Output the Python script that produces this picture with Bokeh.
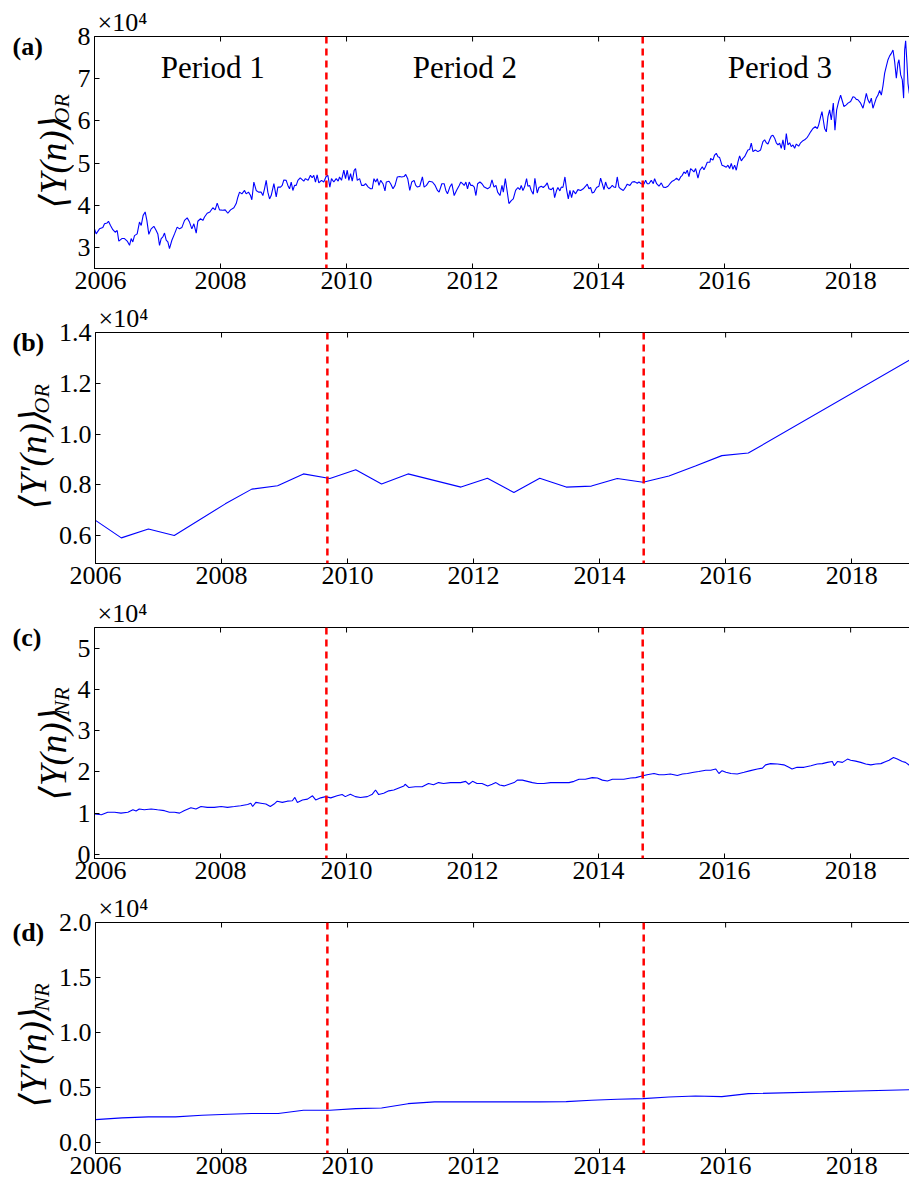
import math
from bokeh.plotting import figure
from bokeh.models import Label, Span, FixedTicker, PrintfTickFormatter, Range1d
from bokeh.layouts import column, row
from bokeh.embed import file_html
from bokeh.resources import INLINE

# ---------------- data (values in units of 10^4) ----------------
x_ticks = [2006, 2008, 2010, 2012, 2014, 2016, 2018]
period_breaks = [2009.68, 2014.70]
period_names = ["Period 1", "Period 2", "Period 3"]
period_text_x = [2007.05, 2011.05, 2016.05]
period_text_y = 7.27

# (a) <Y(n)>_OR, weekly
a_years = [2006.000, 2006.026, 2006.079, 2006.132, 2006.159, 2006.201, 2006.222, 2006.254, 2006.291, 2006.328,
           2006.360, 2006.386, 2006.434, 2006.476, 2006.519, 2006.556, 2006.582, 2006.608, 2006.635, 2006.677,
           2006.714, 2006.741, 2006.772, 2006.804, 2006.831, 2006.862, 2006.899, 2006.942, 2006.979, 2007.005,
           2007.032, 2007.058, 2007.085, 2007.111, 2007.138, 2007.164, 2007.190, 2007.228, 2007.270, 2007.312,
           2007.349, 2007.386, 2007.429, 2007.471, 2007.508, 2007.545, 2007.577, 2007.614, 2007.640, 2007.683,
           2007.720, 2007.746, 2007.788, 2007.831, 2007.878, 2007.915, 2007.947, 2007.984, 2008.037, 2008.074,
           2008.116, 2008.159, 2008.212, 2008.249, 2008.275, 2008.302, 2008.339, 2008.381, 2008.407, 2008.444,
           2008.476, 2008.497, 2008.529, 2008.566, 2008.603, 2008.646, 2008.672, 2008.698, 2008.725, 2008.751,
           2008.778, 2008.804, 2008.847, 2008.884, 2008.910, 2008.952, 2008.979, 2009.005, 2009.042, 2009.069,
           2009.095, 2009.122, 2009.148, 2009.175, 2009.201, 2009.228, 2009.265,
           2009.321, 2009.347, 2009.390, 2009.427, 2009.454, 2009.480, 2009.507, 2009.533, 2009.560, 2009.602,
           2009.639, 2009.676, 2009.703, 2009.735, 2009.761, 2009.798, 2009.836, 2009.867, 2009.889, 2009.920,
           2009.957, 2009.984, 2010.011, 2010.037, 2010.064, 2010.090, 2010.122, 2010.143, 2010.170, 2010.207,
           2010.239, 2010.276, 2010.302, 2010.345, 2010.382, 2010.408, 2010.435, 2010.462, 2010.488, 2010.515,
           2010.541, 2010.578, 2010.610, 2010.631, 2010.674, 2010.700, 2010.737, 2010.769, 2010.806, 2010.844,
           2010.875, 2010.912, 2010.939, 2010.971, 2011.003, 2011.034, 2011.072, 2011.098, 2011.125, 2011.162,
           2011.204, 2011.231, 2011.268, 2011.310, 2011.363, 2011.406, 2011.443, 2011.469, 2011.512, 2011.549,
           2011.576, 2011.602, 2011.639, 2011.671, 2011.708, 2011.745, 2011.788, 2011.814, 2011.841, 2011.867,
           2011.894, 2011.920, 2011.947, 2011.973, 2012.000, 2012.027, 2012.053, 2012.080, 2012.117, 2012.149,
           2012.186, 2012.239, 2012.276, 2012.308, 2012.340, 2012.371, 2012.398, 2012.435, 2012.467, 2012.488,
           2012.520,
           2012.577, 2012.614, 2012.646, 2012.683, 2012.720, 2012.751, 2012.772, 2012.799, 2012.825, 2012.857,
           2012.878, 2012.905, 2012.931, 2012.963, 2012.989, 2013.026, 2013.053, 2013.090, 2013.122, 2013.159,
           2013.185, 2013.212, 2013.249, 2013.280, 2013.302, 2013.333, 2013.354, 2013.386, 2013.407, 2013.434,
           2013.466, 2013.492, 2013.519, 2013.545, 2013.571, 2013.598, 2013.635, 2013.672, 2013.714, 2013.757,
           2013.794, 2013.820, 2013.847, 2013.873, 2013.899, 2013.926, 2013.968, 2014.005, 2014.032, 2014.058,
           2014.085, 2014.111, 2014.138, 2014.164, 2014.190, 2014.217, 2014.243, 2014.270, 2014.296, 2014.323,
           2014.349, 2014.392, 2014.429, 2014.455, 2014.497, 2014.534, 2014.571, 2014.614, 2014.640, 2014.677,
           2014.720, 2014.746, 2014.772, 2014.799, 2014.836, 2014.868, 2014.889, 2014.921, 2014.958, 2014.995,
           2015.026, 2015.063, 2015.101, 2015.132, 2015.169, 2015.206, 2015.238, 2015.275, 2015.302, 2015.328,
           2015.354, 2015.381, 2015.407, 2015.434, 2015.460, 2015.487, 2015.513, 2015.540, 2015.577, 2015.608,
           2015.646, 2015.672, 2015.698, 2015.725, 2015.767,
           2015.778, 2015.815, 2015.841, 2015.868, 2015.894, 2015.921, 2015.958, 2015.989, 2016.026, 2016.053,
           2016.079, 2016.106, 2016.132, 2016.159, 2016.185, 2016.212, 2016.238, 2016.265, 2016.291, 2016.317,
           2016.344, 2016.370, 2016.397, 2016.423, 2016.450, 2016.487, 2016.529, 2016.571, 2016.608, 2016.635,
           2016.661, 2016.688, 2016.714, 2016.741, 2016.767, 2016.794, 2016.820, 2016.847, 2016.873, 2016.899,
           2016.926, 2016.952, 2016.979, 2017.005, 2017.032, 2017.058, 2017.085, 2017.111, 2017.138, 2017.175,
           2017.206, 2017.243, 2017.270, 2017.312, 2017.333, 2017.365, 2017.402, 2017.439, 2017.471, 2017.492,
           2017.524, 2017.545, 2017.566, 2017.587, 2017.614, 2017.640, 2017.667, 2017.693, 2017.725, 2017.751,
           2017.778, 2017.810, 2017.841, 2017.862, 2017.894, 2017.931, 2017.958, 2018.000, 2018.037, 2018.063,
           2018.090, 2018.116, 2018.159, 2018.196, 2018.222, 2018.249, 2018.275, 2018.302, 2018.328, 2018.354,
           2018.381, 2018.407, 2018.434, 2018.460, 2018.487, 2018.513, 2018.540, 2018.566, 2018.593, 2018.619,
           2018.646, 2018.672, 2018.698, 2018.725, 2018.751, 2018.767, 2018.794, 2018.820, 2018.841, 2018.857,
           2018.873, 2018.894, 2018.910, 2018.931, 2018.947]
a_vals = [3.44, 3.32, 3.44, 3.47, 3.56, 3.58, 3.62, 3.52, 3.42, 3.36,
          3.40, 3.15, 3.21, 3.21, 3.15, 3.05, 3.21, 3.13, 3.28, 3.32,
          3.60, 3.52, 3.76, 3.84, 3.64, 3.31, 3.44, 3.50, 3.40, 3.32,
          3.05, 3.21, 3.25, 3.34, 3.17, 3.13, 2.97, 3.17, 3.32, 3.48,
          3.44, 3.47, 3.64, 3.70, 3.60, 3.44, 3.56, 3.34, 3.62, 3.68,
          3.64, 3.72, 3.81, 3.84, 3.94, 3.89, 4.05, 3.89, 3.88, 3.89,
          3.81, 3.89, 3.94, 4.04, 4.19, 4.31, 4.27, 4.35, 4.27, 4.31,
          4.23, 4.13, 4.55, 4.35, 4.31, 4.31, 4.23, 4.39, 4.59, 4.31,
          4.15, 4.23, 4.51, 4.20, 4.43, 4.43, 4.47, 4.60, 4.59, 4.47,
          4.39, 4.55, 4.35, 4.47, 4.47, 4.59, 4.65,
          4.57, 4.63, 4.59, 4.71, 4.65, 4.71, 4.55, 4.72, 4.53, 4.59,
          4.55, 4.68, 4.71, 4.43, 4.63, 4.55, 4.63, 4.57, 4.67, 4.59,
          4.83, 4.63, 4.83, 4.59, 4.75, 4.57, 4.83, 4.87, 4.59, 4.63,
          4.47, 4.47, 4.51, 4.43, 4.39, 4.39, 4.63, 4.55, 4.63, 4.47,
          4.59, 4.51, 4.34, 4.55, 4.57, 4.51, 4.39, 4.47, 4.67, 4.68,
          4.67, 4.68, 4.73, 4.63, 4.35, 4.55, 4.59, 4.47, 4.43, 4.45,
          4.67, 4.43, 4.47, 4.57, 4.55, 4.47, 4.35, 4.31, 4.51, 4.51,
          4.35, 4.27, 4.43, 4.51, 4.23, 4.35, 4.47, 4.55, 4.51, 4.47,
          4.55, 4.39, 4.55, 4.47, 4.47, 4.43, 4.23, 4.51, 4.55, 4.51,
          4.43, 4.39, 4.43, 4.60, 4.43, 4.47, 4.31, 4.23, 4.47, 4.31,
          4.63,
          4.04, 4.11, 4.15, 4.35, 4.42, 4.37, 4.47, 4.35, 4.43, 4.63,
          4.45, 4.47, 4.35, 4.26, 4.64, 4.29, 4.42, 4.45, 4.42, 4.47,
          4.53, 4.39, 4.37, 4.42, 4.18, 4.35, 4.42, 4.34, 4.43, 4.42,
          4.67, 4.37, 4.15, 4.35, 4.18, 4.35, 4.27, 4.37, 4.35, 4.39,
          4.45, 4.50, 4.39, 4.42, 4.29, 4.31, 4.42, 4.45, 4.64, 4.51,
          4.37, 4.55, 4.43, 4.39, 4.42, 4.47, 4.43, 4.42, 4.67, 4.43,
          4.39, 4.35, 4.43, 4.50, 4.47, 4.55, 4.56, 4.52, 4.55, 4.51,
          4.50, 4.59, 4.51, 4.51, 4.59, 4.51, 4.63, 4.51, 4.45, 4.53,
          4.43, 4.42, 4.45, 4.51, 4.57, 4.60, 4.64, 4.59, 4.67, 4.71,
          4.79, 4.75, 4.83, 4.68, 4.87, 4.83, 4.79, 4.87, 4.64, 4.83,
          4.91, 4.84, 4.92, 5.02, 5.02,
          5.11, 5.07, 5.19, 5.23, 5.15, 5.13, 4.95, 4.93, 4.90, 4.95,
          4.87, 4.99, 4.85, 4.95, 4.83, 5.03, 5.17, 5.05, 5.11, 5.15,
          5.23, 5.31, 5.32, 5.47, 5.27, 5.31, 5.27, 5.31, 5.51, 5.55,
          5.48, 5.45, 5.55, 5.64, 5.66, 5.59, 5.48, 5.43, 5.47, 5.35,
          5.55, 5.31, 5.70, 5.43, 5.48, 5.39, 5.43, 5.35, 5.45, 5.40,
          5.48, 5.53, 5.55, 5.61, 5.66, 5.74, 5.82, 5.86, 5.82, 5.90,
          6.10, 6.22, 6.02, 5.82, 5.74, 6.10, 6.26, 6.02, 6.42, 5.78,
          6.26, 6.46, 6.61, 6.50, 6.34, 6.38, 6.42, 6.46, 6.57, 6.56,
          6.51, 6.50, 6.42, 6.30, 6.46, 6.65, 6.50, 6.42, 6.54, 6.30,
          6.42, 6.54, 6.61, 6.72, 6.61, 6.83, 7.13, 7.29, 7.45, 7.54,
          7.60, 7.68, 7.41, 7.01, 7.37, 7.45, 7.09, 6.97, 6.54, 7.68,
          7.90, 7.37, 6.89, 6.65, 6.69]

# (b) <Y'(n)>_OR
b_years = [2006.00, 2006.41, 2006.84, 2007.25, 2008.06, 2008.48, 2008.89, 2009.30, 2009.72, 2010.13,
           2010.54, 2010.96, 2011.80, 2012.22, 2012.64, 2013.05, 2013.47, 2013.87, 2014.28, 2014.69,
           2015.10, 2015.52, 2015.94, 2016.36, 2018.94]
b_vals = [0.660, 0.591, 0.626, 0.600, 0.725, 0.783, 0.796, 0.843, 0.825, 0.859,
          0.803, 0.843, 0.791, 0.826, 0.770, 0.826, 0.791, 0.795, 0.825, 0.810,
          0.835, 0.874, 0.915, 0.925, 1.294]

# (c) <Y(n)>_NR, weekly
c_years = [2006.00, 2006.11, 2006.21, 2006.32, 2006.42, 2006.53, 2006.61, 2006.66, 2006.71, 2006.79,
           2006.90, 2007.00, 2007.11, 2007.19, 2007.27, 2007.35, 2007.42, 2007.53, 2007.61, 2007.69,
           2007.79, 2007.90, 2008.01, 2008.11, 2008.22, 2008.32, 2008.43, 2008.48, 2008.51, 2008.56,
           2008.64, 2008.72, 2008.79, 2008.85, 2008.90, 2008.98, 2009.06, 2009.14, 2009.18, 2009.22,
           2009.30, 2009.38, 2009.46, 2009.51, 2009.59, 2009.67, 2009.75, 2009.85, 2009.93, 2009.98,
           2010.06, 2010.14, 2010.22, 2010.33, 2010.41, 2010.46, 2010.51, 2010.59, 2010.67, 2010.75,
           2010.83, 2010.91, 2010.93, 2010.99, 2011.09, 2011.20, 2011.30, 2011.38, 2011.46, 2011.54,
           2011.65, 2011.81, 2011.89, 2011.94, 2012.00, 2012.07, 2012.15, 2012.24, 2012.31, 2012.37,
           2012.43, 2012.50, 2012.58, 2012.66, 2012.71, 2012.79, 2012.87, 2012.95, 2013.03, 2013.13,
           2013.24, 2013.34, 2013.45, 2013.53, 2013.61, 2013.69, 2013.79, 2013.90, 2013.98, 2014.06,
           2014.14, 2014.22, 2014.30, 2014.40, 2014.51, 2014.59, 2014.69, 2014.77, 2014.88, 2014.96,
           2015.04, 2015.14, 2015.25, 2015.33, 2015.41, 2015.51, 2015.59, 2015.70, 2015.78, 2015.86,
           2015.91, 2015.96, 2016.02, 2016.10, 2016.20, 2016.31, 2016.41, 2016.52, 2016.60, 2016.65,
           2016.73, 2016.84, 2016.94, 2017.02, 2017.07, 2017.15, 2017.26, 2017.37, 2017.47, 2017.55,
           2017.63, 2017.71, 2017.74, 2017.79, 2017.87, 2017.95, 2018.00, 2018.08, 2018.16, 2018.24,
           2018.32, 2018.40, 2018.48, 2018.56, 2018.61, 2018.68, 2018.74, 2018.82, 2018.87, 2018.94]
c_vals = [0.98, 0.96, 1.02, 1.02, 1.00, 1.02, 1.08, 1.05, 1.10, 1.08,
          1.10, 1.08, 1.06, 1.02, 1.02, 1.00, 1.06, 1.13, 1.10, 1.16,
          1.14, 1.14, 1.16, 1.14, 1.16, 1.18, 1.21, 1.24, 1.16, 1.26,
          1.24, 1.22, 1.16, 1.22, 1.29, 1.26, 1.29, 1.30, 1.38, 1.26,
          1.32, 1.34, 1.42, 1.32, 1.37, 1.40, 1.37, 1.42, 1.45, 1.40,
          1.46, 1.40, 1.38, 1.40, 1.46, 1.56, 1.45, 1.48, 1.54, 1.56,
          1.61, 1.66, 1.70, 1.62, 1.64, 1.64, 1.72, 1.69, 1.74, 1.72,
          1.74, 1.74, 1.77, 1.70, 1.77, 1.72, 1.72, 1.66, 1.70, 1.74,
          1.68, 1.66, 1.70, 1.74, 1.80, 1.80, 1.77, 1.74, 1.72, 1.72,
          1.74, 1.74, 1.74, 1.74, 1.77, 1.82, 1.82, 1.86, 1.85, 1.80,
          1.78, 1.82, 1.82, 1.82, 1.85, 1.86, 1.90, 1.93, 1.96, 1.93,
          1.93, 1.95, 1.91, 1.95, 1.96, 1.99, 2.01, 2.04, 2.04, 2.07,
          1.96, 2.03, 1.99, 1.96, 1.95, 1.99, 2.03, 2.07, 2.09, 2.17,
          2.20, 2.19, 2.17, 2.11, 2.07, 2.11, 2.11, 2.15, 2.19, 2.20,
          2.23, 2.25, 2.15, 2.25, 2.23, 2.31, 2.28, 2.26, 2.23, 2.19,
          2.17, 2.19, 2.20, 2.25, 2.28, 2.35, 2.31, 2.25, 2.23, 2.15]

# (d) <Y'(n)>_NR
d_years = [2006.00, 2006.42, 2006.84, 2007.27, 2007.69, 2008.11, 2008.48, 2008.90, 2009.30, 2009.72,
           2010.13, 2010.54, 2010.96, 2011.38, 2011.80, 2012.22, 2013.05, 2013.47, 2013.87, 2014.28,
           2014.69, 2015.10, 2015.52, 2015.94, 2016.36, 2018.94]
d_vals = [0.208, 0.224, 0.233, 0.233, 0.248, 0.257, 0.263, 0.263, 0.293, 0.293,
          0.308, 0.314, 0.353, 0.369, 0.369, 0.369, 0.369, 0.372, 0.384, 0.393,
          0.399, 0.414, 0.423, 0.417, 0.444, 0.480]

SERIF = "'Liberation Serif', 'Times New Roman', serif"
MATHF = "'Liberation Serif', 'DejaVu Serif', serif"
X_END = 2018.95
TOTAL_W = 909
FRAME_W = 816


def add_lbl(p, text, x, y, size, style="normal", angle=0.0, align="left", font=SERIF):
    p.add_layout(Label(x=x, y=y, x_units="screen", y_units="screen", text=text,
                       text_font=font, text_font_size=f"{size}px", text_font_style=style,
                       text_color="black", angle=angle, text_align=align,
                       text_baseline="middle"))


def make_panel(xs, ys, y_lo, y_hi, yticks, yfmt, H, top, bottom, left_w,
               letter, main_txt, sub_txt, main_y0, sub_y0, main_cx, sub_cx):
    main_w = TOTAL_W - left_w
    p = figure(frame_width=FRAME_W, frame_height=H, x_range=Range1d(2006, X_END),
               y_range=Range1d(y_lo, y_hi), output_backend="svg", toolbar_location=None,
               min_border_left=main_w - FRAME_W, min_border_right=0, min_border_top=top,
               min_border_bottom=bottom, background_fill_color="white", border_fill_color="white",
               outline_line_color="black", outline_line_width=1)
    p.xgrid.visible = False
    p.ygrid.visible = False
    for ax in (p.xaxis[0], p.yaxis[0]):
        ax.major_tick_in = 5
        ax.major_tick_out = 0
        ax.minor_tick_line_color = None
        ax.major_tick_line_color = "black"
        ax.axis_line_color = "black"
        ax.major_label_text_font = SERIF
        ax.major_label_text_font_size = "26px"
        ax.major_label_text_color = "black"
    p.xaxis.ticker = FixedTicker(ticks=x_ticks)
    p.xaxis.formatter = PrintfTickFormatter(format="%d")
    p.xaxis.major_label_standoff = 3
    p.yaxis.ticker = FixedTicker(ticks=yticks)
    p.yaxis.formatter = PrintfTickFormatter(format=yfmt)
    p.yaxis.major_label_standoff = 4

    # inward ticks on the top spine
    tick_len = (y_hi - y_lo) * 5.0 / H
    p.segment(x0=x_ticks, y0=[y_hi] * len(x_ticks), x1=x_ticks, y1=[y_hi - tick_len] * len(x_ticks),
              line_color="black", line_width=1)

    p.line(xs, ys, line_color="blue", line_width=1.1)
    for b in period_breaks:
        p.add_layout(Span(location=b, dimension="height", line_color="red",
                          line_dash="7 5", line_width=2.5))

    # x10^4 multiplier as a title above the frame
    p.title.text = "\u00d710\u2074"
    p.title.align = "left"
    p.title.offset = 3
    p.title.standoff = 0
    p.title.text_font = SERIF
    p.title.text_font_size = "26px"
    p.title.text_font_style = "normal"
    p.title.text_color = "black"

    # left strip (same vertical borders as the main plot): panel letter and y-axis label
    s = figure(frame_width=left_w, frame_height=H, x_range=Range1d(0, 1), y_range=Range1d(0, 1),
               title=None, output_backend="svg", toolbar_location=None, x_axis_location=None,
               y_axis_location=None, min_border=0, min_border_left=0, min_border_right=0,
               min_border_top=top, min_border_bottom=bottom, outline_line_color=None,
               background_fill_color="white", border_fill_color="white")
    s.grid.visible = False
    add_lbl(s, letter, 12, H - 10, 26, style="bold")
    add_lbl(s, main_txt, main_cx, main_y0, 37, style="italic", angle=math.pi / 2, font=MATHF)
    add_lbl(s, sub_txt, sub_cx, sub_y0, 22, style="italic", angle=math.pi / 2, font=MATHF)
    return row(s, p, spacing=0), p


Y_LBL = "\u27e8Y(n)\u27e9"
YP_LBL = "\u27e8Y\u2032(n)\u27e9"

row_a, pa = make_panel(a_years, a_vals, 2.5, 8.0, [3, 4, 5, 6, 7, 8], "%d", 232, 36, 28, 74,
                       "(a)", Y_LBL, "OR", 60, 145, 53, 61)
for name, tx in zip(period_names, period_text_x):
    pa.add_layout(Label(x=tx, y=period_text_y, text=name, text_font=SERIF, text_font_size="31px",
                        text_color="black", text_align="left", text_baseline="middle"))

row_b, pb = make_panel(b_years, b_vals, 0.49, 1.4, [0.6, 0.8, 1.0, 1.2, 1.4], "%.1f", 231, 36, 28, 55,
                       "(b)", YP_LBL, "OR", 54, 150, 33, 41)
row_c, pc = make_panel(c_years, c_vals, -0.1, 5.5, [0, 1, 2, 3, 4, 5], "%d", 231, 36, 28, 74,
                       "(c)", Y_LBL, "NR", 58, 143, 53, 61)
row_d, pd_ = make_panel(d_years, d_vals, -0.1, 2.0, [0.0, 0.5, 1.0, 1.5, 2.0], "%.1f", 231, 36, 25, 55,
                        "(d)", YP_LBL, "NR", 46, 142, 33, 41)

layout = column(row_a, row_b, row_c, row_d, spacing=0)
open("out.html", "w").write(file_html(layout, INLINE))
